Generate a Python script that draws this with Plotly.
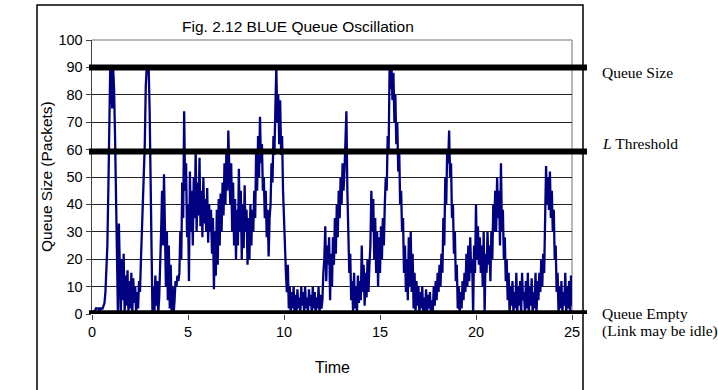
import numpy as np
import plotly.graph_objects as go

# Time step of the samples (units of "Time")
dt = 0.05

# Queue size samples, one row per time unit (20 samples each)
q_00 = [0, 0, 1, 1, 2, 2, 2, 2, 1, 2, 2, 2, 3, 4, 8, 15, 25, 45, 80, 90]
q_01 = [88, 75, 90, 82, 65, 40, 10, 0, 33, 15, 0, 20, 5, 22, 0, 14, 3, 16, 0, 12]
q_02 = [2, 15, 0, 13, 4, 10, 0, 8, 2, 12, 8, 20, 30, 45, 55, 62, 83, 90, 88, 90]
q_03 = [75, 45, 20, 0, 10, 0, 14, 3, 12, 0, 6, 15, 30, 45, 25, 51, 35, 10, 30, 5]
q_04 = [25, 2, 18, 0, 10, 0, 5, 12, 10, 14, 12, 15, 30, 20, 48, 35, 74, 45, 55, 28]
q_05 = [40, 12, 52, 30, 45, 25, 50, 35, 60, 30, 48, 36, 57, 32, 45, 28, 50, 33, 42, 30]
q_06 = [46, 26, 40, 30, 38, 22, 35, 9, 30, 14, 38, 18, 42, 25, 44, 30, 48, 36, 55, 40]
q_07 = [60, 45, 67, 50, 40, 55, 30, 48, 25, 42, 20, 38, 25, 53, 30, 45, 20, 40, 24, 47]
q_08 = [30, 38, 18, 35, 20, 40, 25, 38, 30, 45, 35, 60, 45, 65, 50, 72, 55, 62, 45, 50]
q_09 = [35, 45, 28, 38, 21, 35, 40, 55, 48, 65, 58, 75, 90, 70, 80, 62, 78, 58, 65, 45]
q_10 = [35, 20, 15, 8, 18, 2, 10, 0, 8, 2, 10, 0, 7, 1, 9, 2, 6, 0, 10, 3]
q_11 = [8, 0, 10, 2, 6, 0, 9, 3, 7, 0, 10, 2, 8, 0, 6, 2, 10, 0, 7, 2]
q_12 = [5, 15, 20, 32, 12, 25, 18, 28, 5, 22, 10, 28, 18, 35, 22, 40, 28, 45, 35, 50]
q_13 = [40, 55, 45, 52, 60, 74, 45, 30, 15, 22, 5, 12, 0, 15, 2, 10, 0, 14, 4, 12]
q_14 = [5, 25, 8, 18, 3, 15, 6, 20, 8, 18, 25, 45, 30, 42, 20, 35, 15, 30, 10, 28]
q_15 = [15, 32, 20, 35, 25, 40, 50, 45, 65, 60, 90, 82, 90, 78, 88, 70, 80, 62, 70, 52]
q_16 = [60, 40, 45, 30, 35, 15, 25, 8, 20, 5, 28, 10, 30, 8, 22, 2, 15, 0, 12, 3]
q_17 = [10, 0, 8, 2, 10, 0, 6, 1, 9, 0, 7, 2, 8, 0, 5, 1, 10, 3, 12, 5]
q_18 = [15, 8, 18, 10, 22, 15, 35, 25, 50, 40, 60, 55, 67, 50, 55, 35, 40, 22, 30, 12]
q_19 = [18, 2, 10, 0, 8, 2, 12, 5, 15, 8, 22, 10, 25, 12, 28, 15, 20, 0, 25, 15]
q_20 = [40, 20, 32, 18, 28, 15, 25, 10, 30, 0, 22, 15, 30, 18, 25, 12, 30, 20, 40, 30]
q_21 = [45, 30, 50, 35, 45, 25, 55, 30, 38, 20, 28, 12, 20, 5, 15, 0, 10, 3, 12, 0]
q_22 = [8, 2, 15, 0, 10, 3, 12, 0, 15, 5, 8, 0, 12, 2, 15, 0, 10, 3, 13, 0]
q_23 = [8, 2, 15, 0, 12, 5, 15, 8, 20, 10, 22, 15, 35, 54, 40, 50, 38, 52, 35, 45]
q_24 = [30, 38, 20, 25, 8, 15, 0, 10, 2, 12, 0, 8, 3, 15, 0, 10, 2, 12, 0, 14]
q_25 = [3]

queue = (q_00 + q_01 + q_02 + q_03 + q_04 + q_05 + q_06 + q_07 + q_08 + q_09 +
         q_10 + q_11 + q_12 + q_13 + q_14 + q_15 + q_16 + q_17 + q_18 + q_19 +
         q_20 + q_21 + q_22 + q_23 + q_24 + q_25)
time = np.round(np.arange(len(queue)) * dt, 2)

x_ticks = [0, 5, 10, 15, 20, 25]
y_ticks = [0, 10, 20, 30, 40, 50, 60, 70, 80, 90, 100]

# Reference levels
level_queue_size = 90
level_threshold = 59.3
level_empty = 0.3

title_text = "Fig. 2.12 BLUE Queue Oscillation"
x_title = "Time"
y_title = "Queue Size (Packets)"

SANS = "Liberation Sans, Arial, sans-serif"
SERIF = "Liberation Serif, Times New Roman, serif"

fig = go.Figure()
fig.add_trace(go.Scatter(x=time, y=queue, mode="lines",
                         line=dict(color="#000080", width=2.3),
                         showlegend=False, hoverinfo="skip"))

W, H = 718, 390
PL, PR, PT, PB = 92, 572, 40, 314          # plot area in window pixels
L, T = PL, PT
R, B = W - PR, H - PB
pw, ph = PR - PL, PB - PT

def px(xpix):
    return (xpix - PL) / pw

def py(ypix):
    return (PB - ypix) / ph

shapes = []
shapes.append(dict(type="line", xref="paper", yref="paper", x0=0, x1=1, y0=1, y1=1,
                   line=dict(color="#a0a0a0", width=1.5), layer="below"))
shapes.append(dict(type="line", xref="paper", yref="paper", x0=1, x1=1, y0=0, y1=1,
                   line=dict(color="#a0a0a0", width=1.5), layer="below"))
shapes.append(dict(type="rect", xref="paper", yref="paper",
                   x0=px(37), x1=px(583), y0=py(398), y1=py(5),
                   line=dict(color="black", width=1.5), layer="below"))
for lv in [level_queue_size, level_threshold, level_empty]:
    shapes.append(dict(type="line", xref="paper", yref="y", x0=px(89), x1=px(587),
                       y0=lv, y1=lv, line=dict(color="black", width=6), layer="above"))

annotations = [
    dict(text=title_text, xref="paper", yref="paper", x=px(298), y=py(27),
         showarrow=False, font=dict(family=SANS, size=15.5, color="black"),
         xanchor="center", yanchor="middle"),
    dict(text=x_title, xref="paper", yref="paper", x=px(332), y=py(367),
         showarrow=False, font=dict(family=SANS, size=16, color="black"),
         xanchor="center", yanchor="middle"),
    dict(text=y_title, xref="paper", yref="paper", x=px(46), y=0.5, textangle=-90,
         showarrow=False, font=dict(family=SANS, size=15.5, color="black"),
         xanchor="center", yanchor="middle"),
    dict(text="Queue Size", xref="paper", yref="paper", x=px(600), y=py(72),
         showarrow=False, font=dict(family=SERIF, size=15.5, color="black"),
         xanchor="left", yanchor="middle"),
    dict(text="<i>L</i> Threshold", xref="paper", yref="paper", x=px(600), y=py(143),
         showarrow=False, font=dict(family=SERIF, size=15.5, color="black"),
         xanchor="left", yanchor="middle"),
    dict(text="Queue Empty", xref="paper", yref="paper", x=px(600), y=py(313),
         showarrow=False, font=dict(family=SERIF, size=15.5, color="black"),
         xanchor="left", yanchor="middle"),
    dict(text="(Link may be idle)", xref="paper", yref="paper", x=px(600), y=py(331),
         showarrow=False, font=dict(family=SERIF, size=15.5, color="black"),
         xanchor="left", yanchor="middle"),
]

fig.update_layout(
    width=W, height=H,
    margin=dict(l=L, r=R, t=T, b=B, pad=0),
    paper_bgcolor="white", plot_bgcolor="white",
    shapes=shapes, annotations=annotations,
    showlegend=False, hovermode=False,
    xaxis=dict(range=[0, 25], tickvals=x_ticks, ticktext=[str(v) for v in x_ticks],
               showgrid=False, zeroline=False, showline=False,
               ticks="outside", ticklen=5, tickcolor="#404040", tickwidth=1,
               tickfont=dict(family=SANS, size=14.5, color="black"), fixedrange=True),
    yaxis=dict(range=[0, 100], tickvals=y_ticks, ticktext=[str(v) for v in y_ticks],
               showgrid=True, gridcolor="#202020", gridwidth=1,
               zeroline=False, showline=True, linecolor="#404040", linewidth=1.5,
               ticks="outside", ticklen=5, tickcolor="#404040", tickwidth=1,
               tickfont=dict(family=SANS, size=14.5, color="black"), fixedrange=True),
)

fig.write_html("out.html", config={"displayModeBar": False, "staticPlot": True},
               post_script="document.body.style.margin='0';document.body.style.overflow='hidden';")
